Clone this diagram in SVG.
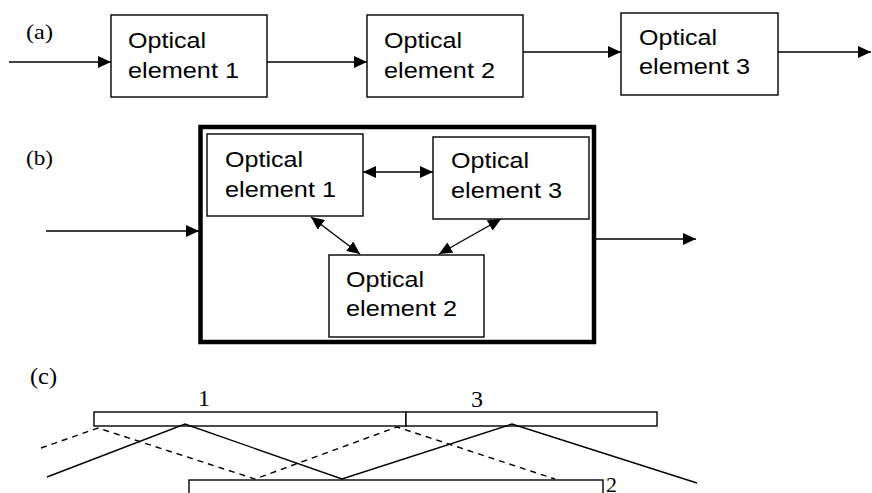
<svg xmlns="http://www.w3.org/2000/svg" width="872" height="493" viewBox="0 0 872 493">
<style>
.box{fill:#fff;stroke:#000;stroke-width:1.4}
.t{font-family:"Liberation Sans",Arial,sans-serif;font-size:21.5px;fill:#000}
.s{font-family:"Liberation Serif","Times New Roman",serif;font-size:22px;fill:#000}
.n{font-family:"Liberation Serif","Times New Roman",serif;font-size:24px;fill:#000}
.ln{fill:none;stroke:#000;stroke-width:1.4}
.ar{fill:none;stroke:#000;stroke-width:1.4;marker-end:url(#ah)}
.dar{fill:none;stroke:#000;stroke-width:1.4;marker-end:url(#ah);marker-start:url(#ah)}
.dash{fill:none;stroke:#000;stroke-width:1.4;stroke-dasharray:6 5}
</style>
<defs>
<marker id="ah" markerUnits="userSpaceOnUse" markerWidth="13" markerHeight="12" refX="13" refY="6" orient="auto-start-reverse">
<path d="M0,0 L13,6 L0,12 z" fill="#000"/>
</marker>
</defs>
<rect width="872" height="493" fill="#fff"/>
<text class="s" x="26" y="39" textLength="27" lengthAdjust="spacingAndGlyphs">(a)</text>
<text class="s" x="26" y="165" textLength="27" lengthAdjust="spacingAndGlyphs">(b)</text>
<text class="s" x="30" y="384" textLength="27" lengthAdjust="spacingAndGlyphs" style="font-size:24px">(c)</text>
<g id="connectors">
<line class="ar" x1="9" y1="62" x2="111" y2="62"/>
<line class="ar" x1="267" y1="62" x2="367" y2="62"/>
<line class="ar" x1="523" y1="52" x2="621" y2="52"/>
<line class="ar" x1="778" y1="52" x2="871" y2="52"/>
<line class="dar" x1="363" y1="172" x2="433" y2="172"/>
<line class="dar" x1="311" y1="217" x2="360" y2="254"/>
<line class="dar" x1="501" y1="219" x2="439" y2="254"/>
<line class="ar" x1="46" y1="231" x2="199" y2="231"/>
<line class="ar" x1="596" y1="239" x2="696" y2="239"/>
</g>
<g id="a1"><rect class="box" x="111" y="15" width="156" height="82"/><text class="t" x="128" y="48" textLength="78" lengthAdjust="spacingAndGlyphs">Optical</text><text class="t" x="128" y="78" textLength="111" lengthAdjust="spacingAndGlyphs">element 1</text></g>
<g id="a2"><rect class="box" x="367" y="15" width="156" height="82"/><text class="t" x="384" y="48" textLength="78" lengthAdjust="spacingAndGlyphs">Optical</text><text class="t" x="384" y="78" textLength="111" lengthAdjust="spacingAndGlyphs">element 2</text></g>
<g id="a3"><rect class="box" x="621" y="13" width="157" height="82"/><text class="t" x="639" y="45" textLength="78" lengthAdjust="spacingAndGlyphs">Optical</text><text class="t" x="639" y="74" textLength="111" lengthAdjust="spacingAndGlyphs">element 3</text></g>
<g id="bframe"><rect x="200.5" y="127" width="393.5" height="215" fill="none" stroke="#000" stroke-width="4.5"/></g>
<g id="b1"><rect class="box" x="207" y="134" width="156" height="82"/><text class="t" x="225" y="167" textLength="78" lengthAdjust="spacingAndGlyphs">Optical</text><text class="t" x="225" y="197" textLength="111" lengthAdjust="spacingAndGlyphs">element 1</text></g>
<g id="b3"><rect class="box" x="433" y="137" width="156" height="82"/><text class="t" x="451" y="168" textLength="78" lengthAdjust="spacingAndGlyphs">Optical</text><text class="t" x="451" y="198" textLength="111" lengthAdjust="spacingAndGlyphs">element 3</text></g>
<g id="b2"><rect class="box" x="329" y="255" width="155" height="82"/><text class="t" x="346" y="287" textLength="78" lengthAdjust="spacingAndGlyphs">Optical</text><text class="t" x="346" y="316" textLength="111" lengthAdjust="spacingAndGlyphs">element 2</text></g>
<g id="c">
<rect class="box" x="94" y="412" width="312" height="14"/>
<rect class="box" x="406" y="412" width="251" height="14"/>
<rect class="box" x="189" y="480" width="414" height="20"/>
<text class="n" x="198" y="406">1</text>
<text class="n" x="471" y="407">3</text>
<text class="n" x="606" y="492" style="font-size:22px">2</text>
<polyline class="ln" points="47,477 185,424 342,479 512,424 697,483"/>
<polyline class="dash" points="41,448 98,428 255,479 397,427 555,479"/>
</g>
</svg>
